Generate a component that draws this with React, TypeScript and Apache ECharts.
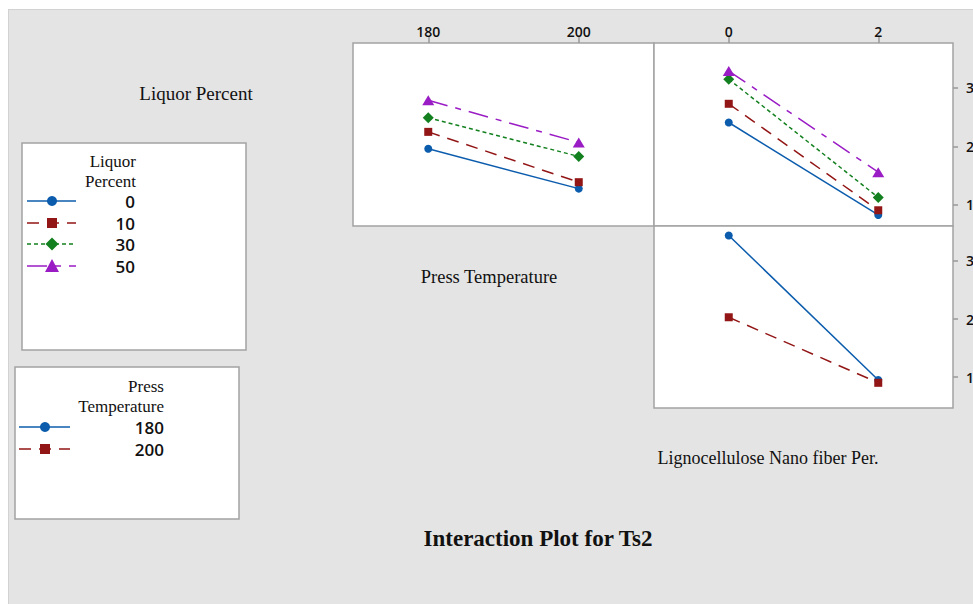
import React, { useEffect, useRef } from "react";
import * as echarts from "echarts";

// ---- data ----
const liquorLevels = ["0", "10", "30", "50"];
const tempLevels = ["180", "200"];
const tempValues = [180, 200];
const lnfValues = [0, 2];
const yTicks = [10, 20, 30];

// Liquor Percent x Press Temperature (means at 180, 200)
const liquor0ByTemp = [19.6, 12.8];
const liquor10ByTemp = [22.5, 13.9];
const liquor30ByTemp = [24.9, 18.3];
const liquor50ByTemp = [27.9, 20.7];

// Liquor Percent x Lignocellulose Nano fiber Per. (means at 0, 2)
const liquor0ByLnf = [24.1, 8.3];
const liquor10ByLnf = [27.3, 9.1];
const liquor30ByLnf = [31.5, 11.3];
const liquor50ByLnf = [32.9, 15.6];

// Press Temperature x Lignocellulose Nano fiber Per. (means at 0, 2)
const temp180ByLnf = [34.4, 9.5];
const temp200ByLnf = [20.3, 9.0];

// ---- styles ----
const sansFont = '"Open Sans", "DejaVu Sans", sans-serif';
const serifFont = '"Liberation Serif", "DejaVu Serif", serif';
const frameColor = "#a3a3a3";

const styles = [
  { color: "#0b5cad", dash: "solid" as any, symbol: "circle", size: 8 },
  { color: "#931616", dash: [12, 8], symbol: "rect", size: 8 },
  { color: "#13801f", dash: [4, 3], symbol: "diamond", size: 11 },
  { color: "#9a1cc4", dash: [20, 8, 6, 8], symbol: "triangle", size: 12 },
];

const liquorByTemp = [liquor0ByTemp, liquor10ByTemp, liquor30ByTemp, liquor50ByTemp];
const liquorByLnf = [liquor0ByLnf, liquor10ByLnf, liquor30ByLnf, liquor50ByLnf];
const tempByLnf = [temp180ByLnf, temp200ByLnf];

function markerEl(symbol: string, cx: number, cy: number, color: string, size: number) {
  const h = size / 2;
  if (symbol === "circle") return { type: "circle", shape: { cx, cy, r: h }, style: { fill: color } };
  if (symbol === "rect") return { type: "rect", shape: { x: cx - h, y: cy - h, width: size, height: size }, style: { fill: color } };
  if (symbol === "diamond")
    return { type: "polygon", shape: { points: [[cx, cy - h], [cx + h, cy], [cx, cy + h], [cx - h, cy]] }, style: { fill: color } };
  return { type: "polygon", shape: { points: [[cx, cy - h], [cx + h, cy + h * 0.85], [cx - h, cy + h * 0.85]] }, style: { fill: color } };
}

function text(t: string, x: number, y: number, font: string, align = "center") {
  return {
    type: "text",
    style: {
      text: t, x, y, font, fill: "#111",
      align, textAlign: align, verticalAlign: "middle", textVerticalAlign: "middle",
    },
  };
}

export default function App() {
  const ref = useRef<HTMLDivElement>(null);
  useEffect(() => {
    if (!ref.current) return;
    const chart = echarts.init(ref.current, undefined, { renderer: "svg" });

    const gridBase = {
      show: true, backgroundColor: "#ffffff", borderColor: frameColor, borderWidth: 1.5,
      containLabel: false, outerBoundsMode: "none",
    };
    const tickLabel = { fontFamily: sansFont, fontWeight: 600, fontSize: 14, color: "#111" };

    const series: any[] = [];
    liquorByTemp.forEach((vals, i) => {
      const s = styles[i];
      series.push({
        type: "line", name: liquorLevels[i], xAxisIndex: 0, yAxisIndex: 0,
        data: tempValues.map((x, k) => [x, vals[k]]),
        symbol: s.symbol, symbolSize: s.symbol === "triangle" ? [s.size, s.size - 2] : s.size,
        itemStyle: { color: s.color }, lineStyle: { color: s.color, width: 1.5, type: s.dash },
      });
    });
    liquorByLnf.forEach((vals, i) => {
      const s = styles[i];
      series.push({
        type: "line", name: liquorLevels[i], xAxisIndex: 1, yAxisIndex: 1,
        data: lnfValues.map((x, k) => [x, vals[k]]),
        symbol: s.symbol, symbolSize: s.symbol === "triangle" ? [s.size, s.size - 2] : s.size,
        itemStyle: { color: s.color }, lineStyle: { color: s.color, width: 1.5, type: s.dash },
      });
    });
    tempByLnf.forEach((vals, i) => {
      const s = styles[i];
      series.push({
        type: "line", name: tempLevels[i], xAxisIndex: 2, yAxisIndex: 2,
        data: lnfValues.map((x, k) => [x, vals[k]]),
        symbol: s.symbol, symbolSize: s.size,
        itemStyle: { color: s.color }, lineStyle: { color: s.color, width: 1.5, type: s.dash },
      });
    });

    // legends
    const graphic: any[] = [];
    graphic.push({ type: "rect", shape: { x: 22, y: 143, width: 224, height: 207 }, style: { fill: "#fff", stroke: frameColor, lineWidth: 1.5 } });
    graphic.push(text("Liquor", 136, 161, `17px ${serifFont}`, "right"));
    graphic.push(text("Percent", 136, 181, `17px ${serifFont}`, "right"));
    const rowY1 = [201, 223, 244, 266];
    liquorLevels.forEach((lab, i) => {
      const s = styles[i];
      const y = rowY1[i];
      graphic.push({ type: "line", shape: { x1: 27, y1: y, x2: 76, y2: y }, style: { stroke: s.color, lineWidth: 1.5, lineDash: s.dash === "solid" ? null : s.dash } });
      graphic.push(markerEl(s.symbol, 52, y, s.color, s.size + 2));
      graphic.push(text(lab, 135, y, `600 17px ${sansFont}`, "right"));
    });

    graphic.push({ type: "rect", shape: { x: 15, y: 367, width: 224, height: 152 }, style: { fill: "#fff", stroke: frameColor, lineWidth: 1.5 } });
    graphic.push(text("Press", 164, 386, `17px ${serifFont}`, "right"));
    graphic.push(text("Temperature", 164, 406, `17px ${serifFont}`, "right"));
    const rowY2 = [427, 449];
    tempLevels.forEach((lab, i) => {
      const s = styles[i];
      const y = rowY2[i];
      graphic.push({ type: "line", shape: { x1: 19, y1: y, x2: 70, y2: y }, style: { stroke: s.color, lineWidth: 1.5, lineDash: s.dash === "solid" ? null : s.dash } });
      graphic.push(markerEl(s.symbol, 45, y, s.color, s.size + 2));
      graphic.push(text(lab, 164, y, `600 17px ${sansFont}`, "right"));
    });

    graphic.push(text("Liquor Percent", 196, 93, `19px ${serifFont}`));
    graphic.push(text("Press Temperature", 489, 277, `18.5px ${serifFont}`));
    graphic.push(text("Lignocellulose Nano fiber Per.", 768, 458, `18px ${serifFont}`));
    graphic.push(text("Interaction Plot for Ts2", 538, 538, `bold 23px ${serifFont}`));

    const rightY = (min: number, max: number, gi: number) => ({
      gridIndex: gi, type: "value", min, max, position: "right",
      axisLine: { show: false, onZero: false }, splitLine: { show: false },
      axisTick: { show: true, customValues: yTicks, length: 5, lineStyle: { color: "#999", width: 1.5 } },
      axisLabel: { ...tickLabel, customValues: yTicks, margin: 13 },
    });
    const topX = (min: number, max: number, gi: number, vals: number[]) => ({
      gridIndex: gi, type: "value", min, max, position: "top",
      axisLine: { show: false, onZero: false }, splitLine: { show: false },
      axisTick: { show: true, customValues: vals, length: 6, lineStyle: { color: "#999", width: 1.5 } },
      axisLabel: { ...tickLabel, customValues: vals, margin: 5 },
    });

    chart.setOption({
      animation: false,
      backgroundColor: "transparent",
      grid: [
        { ...gridBase, left: 353, top: 43, width: 301, height: 183 },
        { ...gridBase, left: 654, top: 43, width: 299, height: 183 },
        { ...gridBase, left: 654, top: 226, width: 299, height: 182 },
      ],
      xAxis: [
        topX(170, 210, 0, tempValues),
        topX(-1, 3, 1, lnfValues),
        { gridIndex: 2, type: "value", min: -1, max: 3, show: false, axisLine: { onZero: false } },
      ],
      yAxis: [
        { gridIndex: 0, type: "value", min: 6.41, max: 37.69, show: false, axisLine: { onZero: false } },
        rightY(6.41, 37.69, 1),
        rightY(4.66, 36.03, 2),
      ],
      series,
      graphic,
    });
    return () => chart.dispose();
  }, []);

  return (
    <div style={{ position: "fixed", left: 0, top: 0, width: 973, height: 604, background: "#fff", overflow: "hidden" }}>
      <div
        style={{
          position: "absolute", left: 8, top: 9, right: 0, bottom: 0,
          background: "#e4e4e4", borderTop: "1px solid #d2d2d2", borderLeft: "1px solid #d2d2d2",
        }}
      />
      <div ref={ref} style={{ position: "absolute", left: 0, top: 0, width: 973, height: 604 }} />
    </div>
  );
}
